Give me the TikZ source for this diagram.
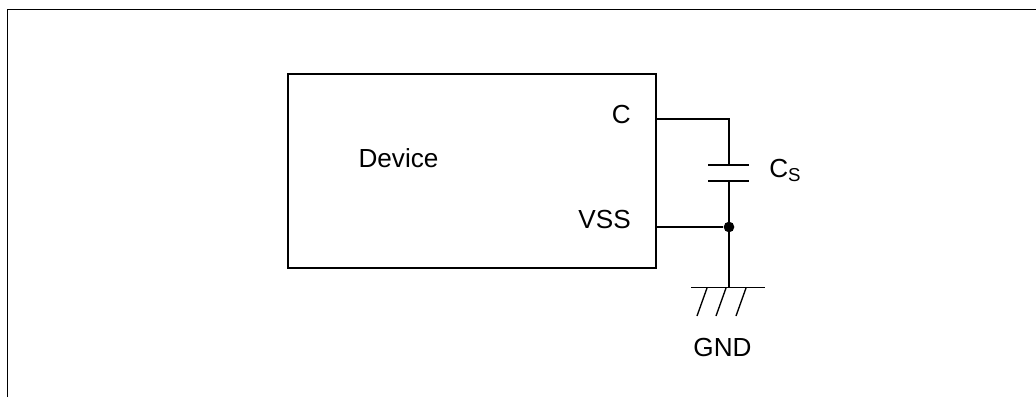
\documentclass[tikz,border=0pt]{standalone}
\usepackage{fontspec}
\setmainfont{Liberation Sans}
\usepackage{tikz}
\usetikzlibrary{positioning}

\tikzset{
wire/.style={line width=1pt,black},
lbl/.style={font=\fontsize{19.6}{22}\selectfont,inner sep=0pt},
}

\begin{document}
\begin{tikzpicture}[x=0.75pt,y=-0.75pt]
\useasboundingbox (0,0) rectangle (1036,397);
\draw[wire] (7.5,397)--(7.5,9.5)--(1036,9.5);

\node[draw,wire,minimum width=276pt,minimum height=145.5pt,inner sep=0pt] (device) at (472,171){};
\coordinate (c) at (656,119);
\coordinate (vss) at (656,227);
\node[lbl] (devicetext) at (398.5,158.5){Device};
\node[lbl,anchor=east] (ctext) at (631,114){C};
\node[lbl,anchor=east] (vsstext) at (631,219.5){VSS};

\coordinate (top) at (729,119);
\coordinate (p1) at (729,165);
\coordinate (p2) at (729,181);
\coordinate (gnd) at (729,287.5);
\node[circle,fill=black,inner sep=0pt,minimum size=8pt] (dot) at (729,227){};

\draw[wire] (c)--(top)--(p1);
\draw[wire] (p2)--(gnd);
\draw[wire] (vss)--(dot);
\draw[wire] (708,165)--(749,165);
\draw[wire] (708,181)--(749,181);
\node[lbl,anchor=west] (cs) at (769,170.5){C\fontsize{14}{15}\selectfont\raisebox{-3.2pt}{S}};

\draw[wire] (691,287.5)--(765,287.5);
\foreach \x in {707,726,746}{
\draw[wire] (\x,288)--(\x-10,316);
}
\node[lbl] (gndtext) at (722.5,347.5){GND};
\end{tikzpicture}
\end{document}
